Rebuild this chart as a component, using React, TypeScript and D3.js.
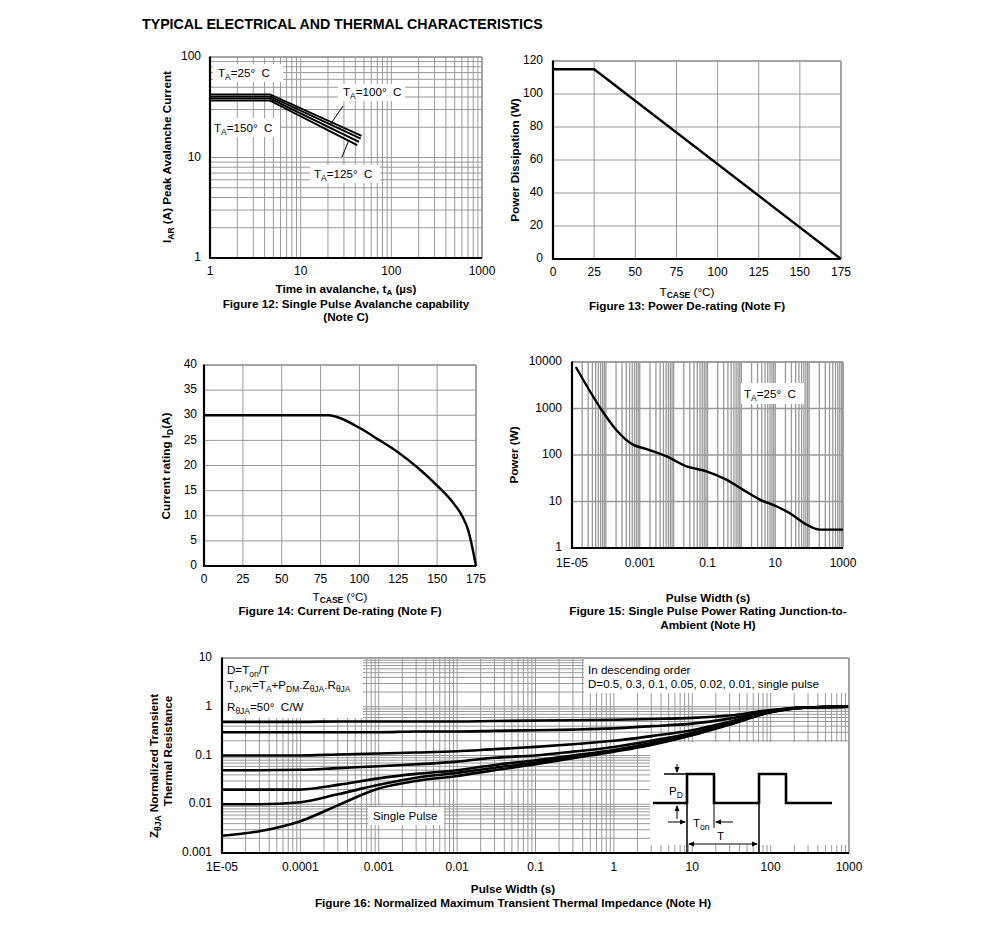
import React from 'react';
import * as d3 from 'd3';

const FONT = "'Liberation Sans', Arial, Helvetica, sans-serif";
const GRID = '#999999';
const TICK_FS = 12;
const LABEL_FS = 11.7;
const NOTE_FS = 11.6;

// ---------- Figure 12 data ----------
const avTemps = ['25', '100', '125', '150'];
const avTime25 = [1, 4.6, 47];
const avTime100 = [1, 4.6, 46];
const avTime125 = [1, 4.6, 44];
const avTime150 = [1, 4.6, 42];
const avI25 = [42.5, 42.5, 16.4];
const avI100 = [40.5, 40.5, 15.4];
const avI125 = [38.6, 38.6, 14.3];
const avI150 = [36.8, 36.8, 13.3];
const fig12XTicks = [1, 10, 100, 1000];
const fig12YTicks = [1, 10, 100];

// ---------- Figure 13 data ----------
const pdTemp = [0, 25, 175];
const pdPower = [115, 115, 0];
const fig13XTicks = [0, 25, 50, 75, 100, 125, 150, 175];
const fig13YTicks = [0, 20, 40, 60, 80, 100, 120];

// ---------- Figure 14 data ----------
const idTemp = [0, 80, 85, 100, 112, 125, 137, 150, 160, 166, 170, 175];
const idCurrent = [30, 30, 29.7, 27.5, 25.2, 22.6, 19.7, 16.0, 12.7, 10.0, 7.1, 0];
const fig14XTicks = [0, 25, 50, 75, 100, 125, 150, 175];
const fig14YTicks = [0, 5, 10, 15, 20, 25, 30, 35, 40];

// ---------- Figure 15 data ----------
const spWidth = [1.3e-5, 7.4e-5, 2e-4, 6.3e-4, 1.6e-3, 6.2e-3, 0.024, 0.093, 0.36, 1.1, 3.5, 10.7, 27, 83, 204, 1000];
const spPower = [7800, 944, 350, 167, 134, 93, 57, 44.6, 29.5, 18, 11, 7.9, 5.6, 3.2, 2.48, 2.48];
const fig15XTicks = [1e-5, 1e-3, 0.1, 10, 1000];
const fig15XLabels = ['1E-05', '0.001', '0.1', '10', '1000'];
const fig15YTicks = [1, 10, 100, 1000, 10000];

// ---------- Figure 16 data ----------
const ztWidth = [1e-5, 3e-5, 1e-4, 3e-4, 1e-3, 3e-3, 0.01, 0.03, 0.1, 0.3, 1, 3, 10, 30, 100, 300, 1000];
const zD05 = [0.49, 0.49, 0.49, 0.5, 0.5, 0.5, 0.5, 0.51, 0.52, 0.53, 0.54, 0.56, 0.59, 0.66, 0.86, 0.98, 1.0];
const zD03 = [0.3, 0.3, 0.3, 0.3, 0.3, 0.31, 0.31, 0.32, 0.33, 0.34, 0.36, 0.4, 0.45, 0.57, 0.83, 0.97, 1.0];
const zD01 = [0.1, 0.1, 0.1, 0.105, 0.11, 0.115, 0.122, 0.135, 0.15, 0.17, 0.2, 0.25, 0.33, 0.49, 0.8, 0.97, 1.0];
const zD005 = [0.05, 0.05, 0.051, 0.055, 0.06, 0.066, 0.075, 0.09, 0.1, 0.12, 0.15, 0.2, 0.29, 0.46, 0.79, 0.97, 1.0];
const zD002 = [0.02, 0.02, 0.02, 0.025, 0.034, 0.042, 0.05, 0.064, 0.08, 0.1, 0.13, 0.18, 0.28, 0.45, 0.78, 0.97, 1.0];
const zD001 = [0.01, 0.01, 0.011, 0.016, 0.025, 0.035, 0.044, 0.056, 0.072, 0.095, 0.125, 0.17, 0.27, 0.44, 0.78, 0.97, 1.0];
const zSingle = [0.00225, 0.0028, 0.0045, 0.0095, 0.021, 0.03, 0.038, 0.05, 0.066, 0.088, 0.12, 0.165, 0.26, 0.43, 0.77, 0.97, 1.0];
const fig16XTicks = [1e-5, 1e-4, 1e-3, 0.01, 0.1, 1, 10, 100, 1000];
const fig16XLabels = ['1E-05', '0.0001', '0.001', '0.01', '0.1', '1', '10', '100', '1000'];
const fig16YTicks = [0.001, 0.01, 0.1, 1, 10];
const fig16YLabels = ['0.001', '0.01', '0.1', '1', '10'];

type Box = { L: number; R: number; T: number; B: number };

function logGridValues(lo: number, hi: number): number[] {
  const out: number[] = [];
  const e0 = Math.round(Math.log10(lo));
  const e1 = Math.round(Math.log10(hi));
  for (let e = e0; e < e1; e++) for (let k = 1; k < 10; k++) out.push(k * Math.pow(10, e));
  out.push(hi);
  return out;
}

function Frame({ b }: { b: Box }) {
  return (
    <g>
      <line x1={b.L} x2={b.R} y1={b.T} y2={b.T} stroke={GRID} strokeWidth={1.5} />
      <line x1={b.R} x2={b.R} y1={b.T} y2={b.B} stroke={GRID} strokeWidth={1.5} />
      <line x1={b.L} x2={b.L} y1={b.T - 0.5} y2={b.B + 1} stroke="#000" strokeWidth={2.2} />
      <line x1={b.L - 1} x2={b.R} y1={b.B} y2={b.B} stroke="#000" strokeWidth={2.2} />
    </g>
  );
}

function VGrid({ xs, sx, b, w = 1 }: { xs: number[]; sx: any; b: Box; w?: number }) {
  return (
    <g>
      {xs.map((v, i) => (
        <line key={i} x1={sx(v)} x2={sx(v)} y1={b.T} y2={b.B} stroke={GRID} strokeWidth={w} />
      ))}
    </g>
  );
}
function HGrid({ ys, sy, b, w = 1 }: { ys: number[]; sy: any; b: Box; w?: number }) {
  return (
    <g>
      {ys.map((v, i) => (
        <line key={i} x1={b.L} x2={b.R} y1={sy(v)} y2={sy(v)} stroke={GRID} strokeWidth={w} />
      ))}
    </g>
  );
}

function XLabels({ vals, labels, sx, y }: { vals: number[]; labels: string[]; sx: any; y: number }) {
  return (
    <g fontSize={TICK_FS} textAnchor="middle">
      {vals.map((v, i) => (
        <text key={i} x={sx(v)} y={y} dominantBaseline="middle">{labels[i]}</text>
      ))}
    </g>
  );
}
function YLabels({ vals, labels, sy, x }: { vals: number[]; labels: string[]; sy: any; x: number }) {
  return (
    <g fontSize={TICK_FS} textAnchor="end">
      {vals.map((v, i) => (
        <text key={i} x={x} y={sy(v)} dominantBaseline="middle">{labels[i]}</text>
      ))}
    </g>
  );
}

function TLabel({ x, y, temp }: { x: number; y: number; temp: string }) {
  return (
    <text x={x} y={y} fontSize={NOTE_FS}>
      T<tspan dy={3} fontSize={8.5}>A</tspan>
      <tspan dy={-3}>={temp}°{'\u00a0\u00a0'}C</tspan>
    </text>
  );
}

function Fig12() {
  const b: Box = { L: 210, R: 482, T: 57, B: 258 };
  const sx = d3.scaleLog().domain([1, 1000]).range([b.L, b.R]);
  const sy = d3.scaleLog().domain([1, 100]).range([b.B, b.T]);
  const line = d3.line<[number, number]>().x((d) => sx(d[0])).y((d) => sy(d[1]));
  const series: [number[], number[]][] = [
    [avTime25, avI25],
    [avTime100, avI100],
    [avTime125, avI125],
    [avTime150, avI150],
  ];
  return (
    <g>
      <VGrid xs={logGridValues(1, 1000)} sx={sx} b={b} />
      <HGrid ys={logGridValues(1, 100)} sy={sy} b={b} />
      {/* label boxes */}
      <rect x={213} y={64} width={70} height={18} fill="#fff" />
      <rect x={211} y={118} width={69} height={19} fill="#fff" />
      <rect x={338} y={84} width={67} height={17} fill="#fff" />
      <rect x={310} y={165} width={70} height={18} fill="#fff" />
      {series.map((s, i) => (
        <path
          key={avTemps[i]}
          d={line(s[0].map((t, j) => [t, s[1][j]]) as [number, number][]) || ''}
          fill="none"
          stroke="#000"
          strokeWidth={1.9}
        />
      ))}
      <line x1={343} y1={106} x2={330} y2={125} stroke="#000" strokeWidth={1} />
      <line x1={342} y1={157} x2={349} y2={140} stroke="#000" strokeWidth={1} />
      <TLabel x={218} y={77} temp={avTemps[0]} />
      <TLabel x={343} y={96} temp={avTemps[1]} />
      <TLabel x={314} y={178} temp={avTemps[2]} />
      <TLabel x={214} y={132} temp={avTemps[3]} />
      <Frame b={b} />
      <YLabels vals={fig12YTicks} labels={fig12YTicks.map(String)} sy={sy} x={b.L - 9} />
      <XLabels vals={fig12XTicks} labels={fig12XTicks.map(String)} sx={sx} y={b.B + 14} />
      <text transform={`translate(171,157) rotate(-90)`} fontSize={LABEL_FS} fontWeight="bold" textAnchor="middle">
        I<tspan dy={3} fontSize={8.5}>AR</tspan>
        <tspan dy={-3}> (A) Peak Avalanche Current</tspan>
      </text>
      <g fontSize={LABEL_FS} fontWeight="bold" textAnchor="middle">
        <text x={346} y={293}>
          Time in avalanche, t<tspan dy={1.5} fontSize={8}>A</tspan>
          <tspan dy={-1.5}> (µs)</tspan>
        </text>
        <text x={346} y={307.5}>Figure 12: Single Pulse Avalanche capability</text>
        <text x={346} y={321}>(Note C)</text>
      </g>
    </g>
  );
}

function Fig13() {
  const b: Box = { L: 553, R: 841, T: 61, B: 259 };
  const sx = d3.scaleLinear().domain([0, 175]).range([b.L, b.R]);
  const sy = d3.scaleLinear().domain([0, 120]).range([b.B, b.T]);
  const line = d3.line<number>().x((d, i) => sx(pdTemp[i])).y((d) => sy(d));
  return (
    <g>
      <VGrid xs={fig13XTicks} sx={sx} b={b} />
      <HGrid ys={fig13YTicks} sy={sy} b={b} />
      <Frame b={b} />
      <path d={line(pdPower) || ''} fill="none" stroke="#000" strokeWidth={2.4} />
      <YLabels vals={fig13YTicks} labels={fig13YTicks.map(String)} sy={sy} x={b.L - 10} />
      <XLabels vals={fig13XTicks} labels={fig13XTicks.map(String)} sx={sx} y={b.B + 14} />
      <text transform={`translate(519,160) rotate(-90)`} fontSize={LABEL_FS} fontWeight="bold" textAnchor="middle">
        Power Dissipation (W)
      </text>
      <g fontSize={LABEL_FS} fontWeight="bold" textAnchor="middle">
        <text x={687} y={296} fontWeight="normal">
          T<tspan dy={2} fontSize={8.5} fontWeight="bold">CASE</tspan>
          <tspan dy={-2}> (°C)</tspan>
        </text>
        <text x={687} y={310}>Figure 13: Power De-rating (Note F)</text>
      </g>
    </g>
  );
}

function Fig14() {
  const b: Box = { L: 204, R: 476, T: 365, B: 566 };
  const sx = d3.scaleLinear().domain([0, 175]).range([b.L, b.R]);
  const sy = d3.scaleLinear().domain([0, 40]).range([b.B, b.T]);
  const line = d3
    .line<number>()
    .x((d, i) => sx(idTemp[i]))
    .y((d) => sy(d))
    .curve(d3.curveMonotoneX);
  return (
    <g>
      <VGrid xs={fig14XTicks} sx={sx} b={b} />
      <HGrid ys={fig14YTicks} sy={sy} b={b} />
      <Frame b={b} />
      <path d={line(idCurrent) || ''} fill="none" stroke="#000" strokeWidth={2.4} />
      <YLabels vals={fig14YTicks} labels={fig14YTicks.map(String)} sy={sy} x={b.L - 7} />
      <XLabels vals={fig14XTicks} labels={fig14XTicks.map(String)} sx={sx} y={b.B + 14} />
      <text transform={`translate(170,466) rotate(-90)`} fontSize={LABEL_FS} fontWeight="bold" textAnchor="middle">
        Current rating I<tspan dy={3} fontSize={8.5}>D</tspan>
        <tspan dy={-3}>(A)</tspan>
      </text>
      <g fontSize={LABEL_FS} fontWeight="bold" textAnchor="middle">
        <text x={340} y={601} fontWeight="normal">
          T<tspan dy={2} fontSize={8.5} fontWeight="bold">CASE</tspan>
          <tspan dy={-2}> (°C)</tspan>
        </text>
        <text x={340} y={615}>Figure 14: Current De-rating (Note F)</text>
      </g>
    </g>
  );
}

function Fig15() {
  const b: Box = { L: 572, R: 843, T: 362, B: 548 };
  const sx = d3.scaleLog().domain([1e-5, 1000]).range([b.L, b.R]);
  const sy = d3.scaleLog().domain([1, 10000]).range([b.B, b.T]);
  const line = d3
    .line<number>()
    .x((d, i) => sx(spWidth[i]))
    .y((d) => sy(d))
    .curve(d3.curveMonotoneX);
  return (
    <g>
      <VGrid xs={logGridValues(1e-5, 1000)} sx={sx} b={b} w={1.3} />
      <HGrid ys={fig15YTicks} sy={sy} b={b} w={1.3} />
      <rect x={741} y={383} width={63} height={21} fill="#fff" />
      <TLabel x={744} y={398} temp="25" />
      <Frame b={b} />
      <path d={line(spPower) || ''} fill="none" stroke="#000" strokeWidth={2.4} />
      <YLabels vals={fig15YTicks} labels={fig15YTicks.map(String)} sy={sy} x={b.L - 10} />
      <XLabels vals={fig15XTicks} labels={fig15XLabels} sx={sx} y={b.B + 16} />
      <text transform={`translate(518,455) rotate(-90)`} fontSize={LABEL_FS} fontWeight="bold" textAnchor="middle">
        Power (W)
      </text>
      <g fontSize={LABEL_FS} fontWeight="bold" textAnchor="middle">
        <text x={708} y={602}>Pulse Width (s)</text>
        <text x={708} y={615}>Figure 15: Single Pulse Power Rating Junction-to-</text>
        <text x={708} y={629}>Ambient (Note H)</text>
      </g>
    </g>
  );
}

function Fig16() {
  const b: Box = { L: 222, R: 849, T: 658, B: 853 };
  const sx = d3.scaleLog().domain([1e-5, 1000]).range([b.L, b.R]);
  const sy = d3.scaleLog().domain([0.001, 10]).range([b.B, b.T]);
  const line = d3
    .line<number>()
    .x((d, i) => sx(ztWidth[i]))
    .y((d) => sy(d))
    .curve(d3.curveMonotoneX);
  const curves = [zD05, zD03, zD01, zD005, zD002, zD001, zSingle];
  // pulse diagram annotation geometry
  const lowY = 803, highY = 774, r1 = 687, f1 = 714, r2 = 759, f2 = 786;
  return (
    <g>
      <VGrid xs={logGridValues(1e-5, 1000)} sx={sx} b={b} />
      <HGrid ys={logGridValues(0.001, 10)} sy={sy} b={b} />
      <rect x={b.L + 1} y={b.T + 1} width={140} height={59} fill="#fff" />
      <rect x={584} y={b.T + 1} width={264} height={34} fill="#fff" />
      <rect x={650} y={742} width={198} height={103} fill="#fff" />
      <rect x={368} y={807} width={76} height={18} fill="#fff" />
      {curves.map((c, i) => (
        <path key={i} d={line(c) || ''} fill="none" stroke="#000" strokeWidth={2.6} />
      ))}
      <Frame b={b} />
      {/* legend text */}
      <g fontSize={NOTE_FS}>
        <text x={227} y={674}>
          D=T<tspan dy={3} fontSize={8.5}>on</tspan>
          <tspan dy={-3}>/T</tspan>
        </text>
        <text x={227} y={689}>
          T<tspan dy={3} fontSize={8.5}>J,PK</tspan>
          <tspan dy={-3}>=T</tspan>
          <tspan dy={3} fontSize={8.5}>A</tspan>
          <tspan dy={-3}>+P</tspan>
          <tspan dy={3} fontSize={8.5}>DM</tspan>
          <tspan dy={-3}>.Z</tspan>
          <tspan dy={3} fontSize={8.5}>θJA</tspan>
          <tspan dy={-3}>.R</tspan>
          <tspan dy={3} fontSize={8.5}>θJA</tspan>
        </text>
        <text x={227} y={711}>
          R<tspan dy={3} fontSize={8.5}>θJA</tspan>
          <tspan dy={-3}>=50°{'\u00a0\u00a0'}C/W</tspan>
        </text>
        <text x={588} y={674}>In descending order</text>
        <text x={588} y={688}>D=0.5, 0.3, 0.1, 0.05, 0.02, 0.01, single pulse</text>
        <text x={373} y={820}>Single Pulse</text>
      </g>
      {/* pulse diagram */}
      <g stroke="#000" fill="none">
        <path
          d={`M653,${lowY}H${r1}V${highY}H${f1}V${lowY}H${r2}V${highY}H${f2}V${lowY}H832`}
          strokeWidth={2.6}
        />
        <line x1={664} x2={r1} y1={highY} y2={highY} strokeWidth={1.5} />
        <line x1={r1} x2={r1} y1={highY} y2={b.B} strokeWidth={1.5} />
        <line x1={f1} x2={f1} y1={lowY} y2={828} strokeWidth={1} />
        <line x1={r2} x2={r2} y1={lowY} y2={b.B} strokeWidth={1.5} />
        <line x1={677} x2={677} y1={764} y2={772} strokeWidth={1} />
        <line x1={677} x2={677} y1={806} y2={819} strokeWidth={1} />
        <line x1={668} x2={685} y1={822} y2={822} strokeWidth={1} />
        <line x1={716} x2={733} y1={822} y2={822} strokeWidth={1} />
        <line x1={689} x2={757} y1={844} y2={844} strokeWidth={1} />
      </g>
      <g fill="#000">
        <path d={`M677,${highY - 1}l-2.5,-6h5z`} />
        <path d={`M677,${lowY + 2}l-2.5,6h5z`} />
        <path d={`M${r1 - 1},822l-6,-2.5v5z`} />
        <path d={`M${f1 + 1},822l6,-2.5v5z`} />
        <path d={`M${r1 + 1},844l6,-2.5v5z`} />
        <path d={`M${r2 - 1},844l-6,-2.5v5z`} />
      </g>
      <g fontSize={NOTE_FS}>
        <text x={669} y={795}>
          P<tspan dy={3} fontSize={8.5}>D</tspan>
        </text>
        <text x={693} y={827}>
          T<tspan dy={3} fontSize={8.5}>on</tspan>
        </text>
        <text x={717} y={840}>T</text>
      </g>
      <YLabels vals={fig16YTicks} labels={fig16YLabels} sy={sy} x={b.L - 10} />
      <XLabels vals={fig16XTicks} labels={fig16XLabels} sx={sx} y={b.B + 15} />
      <g fontSize={LABEL_FS} fontWeight="bold" textAnchor="middle">
        <text transform={`translate(158,766) rotate(-90)`}>
          Z<tspan dy={3} fontSize={8.5}>θJA</tspan>
          <tspan dy={-3}> Normalized Transient</tspan>
        </text>
        <text transform={`translate(172,751) rotate(-90)`}>Thermal Resistance</text>
        <text x={513} y={893}>Pulse Width (s)</text>
        <text x={513} y={907}>Figure 16: Normalized Maximum Transient Thermal Impedance (Note H)</text>
      </g>
    </g>
  );
}

export default function App() {
  return (
    <svg
      width={991}
      height={950}
      viewBox="0 0 991 950"
      style={{ position: 'absolute', left: 0, top: 0, background: '#fff' }}
      fontFamily={FONT}
    >
      <rect width={991} height={950} fill="#fff" />
      <text x={142} y={29} fontSize={14.2} fontWeight="bold">
        TYPICAL ELECTRICAL AND THERMAL CHARACTERISTICS
      </text>
      <Fig12 />
      <Fig13 />
      <Fig14 />
      <Fig15 />
      <Fig16 />
    </svg>
  );
}
